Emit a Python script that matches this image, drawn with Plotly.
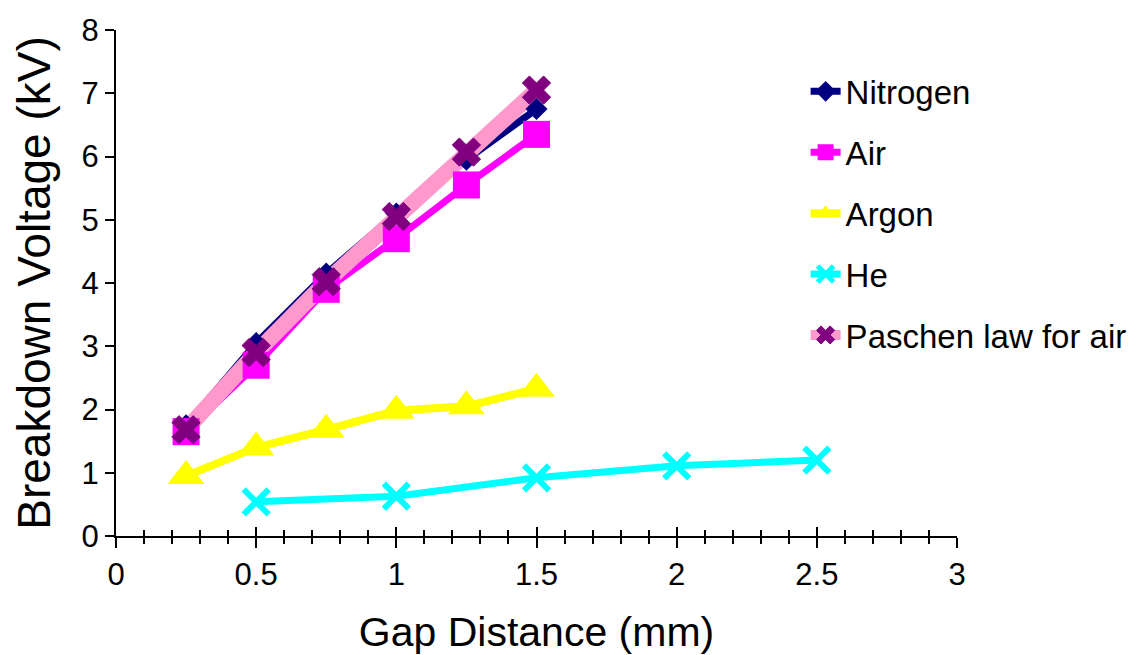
import plotly.graph_objects as go

# ---- data ----
gap = [0.25, 0.5, 0.75, 1.0, 1.25, 1.5]
gap_he = [0.5, 1.0, 1.5, 2.0, 2.5]
nitrogen = [1.75, 3.05, 4.15, 5.1, 5.95, 6.75]
air = [1.65, 2.7, 3.9, 4.7, 5.55, 6.35]
argon = [0.95, 1.4, 1.68, 1.98, 2.05, 2.33]
helium = [0.54, 0.63, 0.92, 1.11, 1.2]
paschen = [1.68, 2.9, 4.02, 5.05, 6.07, 7.05]

names = ["Nitrogen", "Air", "Argon", "He", "Paschen law for air"]
xs = [gap, gap, gap, gap_he, gap]
ys = [nitrogen, air, argon, helium, paschen]

styles = [
    dict(lc="#000080", lw=7, sym="diamond", ms=17, mc="#000080", mlw=0),
    dict(lc="#FF00FF", lw=7, sym="square", ms=27, mc="#FF00FF", mlw=0),
    dict(lc="#FFFF00", lw=8, sym="triangle-up", ms=32, mc="#FFFF00", mlw=0),
    dict(lc="#00FFFF", lw=7, sym="x-thin", ms=25, mc="#00FFFF", mlw=6),
    dict(lc="#FF99CC", lw=16, sym="x", ms=25, mc="#800080", mlw=1),
]

FONT = "Liberation Sans, Arial, Helvetica, sans-serif"

fig = go.Figure()

# layer 1: lines
for n, x, y, s in zip(names, xs, ys, styles):
    fig.add_trace(go.Scatter(
        x=x, y=y, mode="lines", name=n, legendgroup=n, showlegend=False,
        line=dict(color=s["lc"], width=s["lw"]), hoverinfo="skip"))

# layer 2: markers
for n, x, y, s in zip(names, xs, ys, styles):
    fig.add_trace(go.Scatter(
        x=x, y=y, mode="markers", name=n, legendgroup=n, showlegend=False,
        marker=dict(symbol=s["sym"], size=s["ms"], color=s["mc"],
                    line=dict(color=s["mc"], width=s["mlw"]))))

# legend entries
for n, s in zip(names, styles):
    fig.add_trace(go.Scatter(
        x=[None], y=[None], mode="lines+markers", name=n, legendgroup=n,
        xaxis="x2",
        line=dict(color=s["lc"], width=s["lw"] if s["lw"] < 10 else 10),
        marker=dict(symbol=s["sym"], size=s["ms"], color=s["mc"],
                    line=dict(color=s["mc"], width=s["mlw"]))))

fig.update_layout(
    width=1138, height=655,
    margin=dict(l=108, r=189, t=22, b=127, autoexpand=False),
    paper_bgcolor="white", plot_bgcolor="white",
    font=dict(family=FONT, color="black"),
    showlegend=True,
    legend=dict(
        x=0.82, y=0.934, xanchor="left", yanchor="top",
        font=dict(size=33, family=FONT, color="black"),
        traceorder="grouped", tracegroupgap=15,
        bgcolor="rgba(0,0,0,0)", itemwidth=30,
    ),
    xaxis=dict(
        range=[0, 3], tick0=0, dtick=0.5,
        ticks="outside", ticklen=10, tickwidth=2, tickcolor="black",
        showline=True, linewidth=2, linecolor="black",
        showgrid=False, zeroline=False,
        tickfont=dict(size=31, family=FONT, color="black"),
        minor=dict(tick0=0, dtick=0.1, ticks="outside", ticklen=6,
                   tickwidth=2, tickcolor="black", showgrid=False),
        title=dict(text="Gap Distance (mm)",
                   font=dict(size=41, family=FONT, color="black"),
                   standoff=26),
    ),
    xaxis2=dict(
        range=[0, 3], tick0=0, dtick=0.5, overlaying="x", anchor="y",
        side="bottom", ticks="inside", ticklen=9, tickwidth=2,
        tickcolor="black", showticklabels=False, showline=False,
        showgrid=False, zeroline=False,
        minor=dict(tick0=0, dtick=0.1, ticks="inside", ticklen=6,
                   tickwidth=2, tickcolor="black", showgrid=False),
    ),
    yaxis=dict(
        range=[0, 8], tick0=0, dtick=1,
        ticks="outside", ticklen=9, tickwidth=2, tickcolor="black",
        showline=True, linewidth=2, linecolor="black",
        showgrid=False, zeroline=False,
        tickfont=dict(size=31, family=FONT, color="black"),
        title=dict(text="Breakdown Voltage (kV)",
                   font=dict(size=46, family=FONT, color="black"),
                   standoff=18),
    ),
)

fig.write_html("out.html")
